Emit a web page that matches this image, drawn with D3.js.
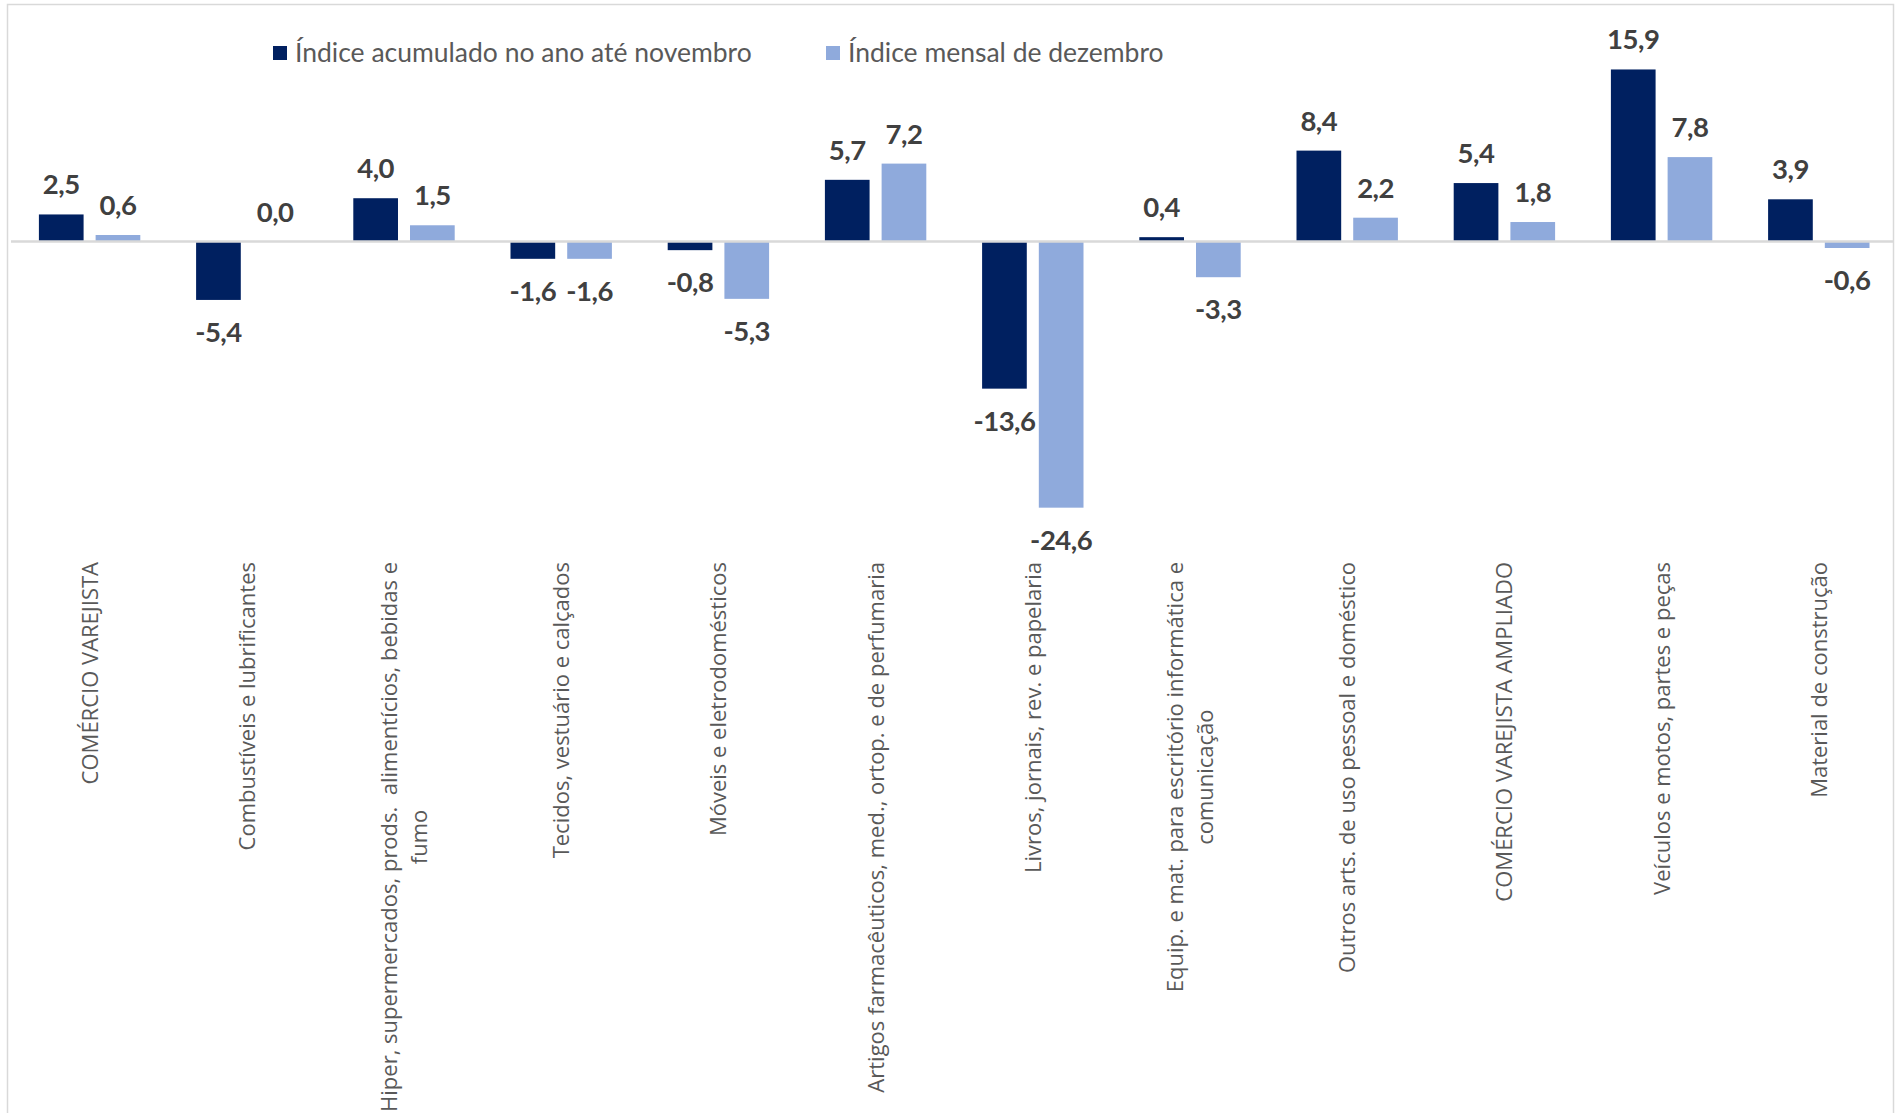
<!DOCTYPE html>
<html>
<head>
<meta charset="utf-8">
<script src="https://cdn.jsdelivr.net/npm/d3@7"></script>
<style>
  body { margin: 0; background: #fff; }
  svg { display: block; }
</style>
</head>
<body>
<div id="chart"></div>
<script>
// categories (line breaks as in the original axis)
const categories = [
  "COMÉRCIO VAREJISTA",
  "Combustíveis e lubrificantes",
  "Hiper, supermercados, prods.  alimentícios, bebidas e\nfumo",
  "Tecidos, vestuário e calçados",
  "Móveis e eletrodomésticos",
  "Artigos farmacêuticos, med., ortop. e de perfumaria",
  "Livros, jornais, rev. e papelaria",
  "Equip. e mat. para escritório informática e\ncomunicação",
  "Outros arts. de uso pessoal e doméstico",
  "COMÉRCIO VAREJISTA AMPLIADO",
  "Veículos e motos, partes e peças",
  "Material de construção"
];
const seriesNames = ["Índice acumulado no ano até novembro", "Índice mensal de dezembro"];
const acumulado = [2.5, -5.4, 4.0, -1.6, -0.8, 5.7, -13.6, 0.4, 8.4, 5.4, 15.9, 3.9];
const dezembro  = [0.6, 0.0, 1.5, -1.6, -5.3, 7.2, -24.6, -3.3, 2.2, 1.8, 7.8, -0.6];

const width = 1896;
const height = 1113;
const colors = ["#002060", "#8FAADC"];
const labelTop = 562;

const locale = d3.formatLocale({decimal: ",", thousands: ".", grouping: [3], currency: ["R$", ""], minus: "-"});
const fmt = locale.format(".1f");

const svg = d3.select("#chart").append("svg")
  .attr("width", width)
  .attr("height", height);

// chart border
svg.append("rect")
  .attr("x", 7.5).attr("y", 4.5)
  .attr("width", 1886).attr("height", 1130)
  .attr("fill", "none")
  .attr("stroke", "#d9d9d9")
  .attr("stroke-width", 1.5);

const x0 = d3.scaleBand()
  .domain(d3.range(categories.length))
  .range([11, 1897.4])
  .paddingInner(0).paddingOuter(0);

const x1 = d3.scaleBand()
  .domain([0, 1])
  .range([27.9, x0.bandwidth() - 27.9])
  .paddingInner(0.212);

const y = d3.scaleLinear()
  .domain([-30, 20])
  .range([566.1, 25.1]);

const rows = categories.map(function(c, i) {
  return {i: i, cat: c, vals: [acumulado[i], dezembro[i]]};
});

const groups = svg.selectAll(".grupo")
  .data(rows).enter().append("g")
  .attr("class", "grupo")
  .attr("transform", function(d) { return "translate(" + x0(d.i) + ",0)"; });

const bars = groups.selectAll("rect")
  .data(function(d) { return d.vals.map(function(v, k) { return {k: k, v: v}; }); })
  .enter();

bars.append("rect")
  .attr("x", function(d) { return x1(d.k); })
  .attr("width", x1.bandwidth())
  .attr("y", function(d) { return y(Math.max(0, d.v)); })
  .attr("height", function(d) { return Math.abs(y(d.v) - y(0)); })
  .attr("fill", function(d) { return colors[d.k]; });

// zero line
svg.append("line")
  .attr("x1", 11).attr("x2", 1893)
  .attr("y1", y(0)).attr("y2", y(0))
  .attr("stroke", "#d9d9d9")
  .attr("stroke-width", 2.5);

// data labels
bars.append("text")
  .attr("x", function(d) { return x1(d.k) + x1.bandwidth() / 2; })
  .attr("y", function(d) { return d.v >= 0 ? y(d.v) - 20 : y(d.v) + 42; })
  .attr("text-anchor", "middle")
  .style("font-family", "Lato, 'Open Sans', sans-serif")
  .style("font-weight", "bold")
  .style("font-size", "27.5px")
  .style("letter-spacing", "-0.5px")
  .style("fill", "#404040")
  .text(function(d) { return fmt(d.v); });

// category labels, rotated, top aligned under the plot
const tick = svg.selectAll(".cat")
  .data(rows).enter().append("g")
  .attr("class", "cat")
  .attr("transform", function(d) { return "translate(" + (x0(d.i) + x0.bandwidth() / 2) + "," + labelTop + ") rotate(-90)"; });

tick.each(function(d) {
  const g = d3.select(this);
  const lines = d.cat.split("\n");
  const n = lines.length;
  const t = g.selectAll("text").data(lines).enter().append("text")
    .attr("y", function(l, j) { return (j - (n - 1) / 2) * 30; })
    .attr("dy", "0.36em")
    .attr("text-anchor", "middle")
    .style("white-space", "pre")
    .style("font-family", "'Open Sans', sans-serif")
    .style("font-size", "22px")
    .style("fill", "#595959")
    .text(function(l) { return l; });
  let longest = 0;
  t.each(function() { longest = Math.max(longest, this.getComputedTextLength()); });
  t.attr("x", -longest / 2);
});

// legend
const legendX = [273, 826];
const legend = svg.selectAll(".legenda")
  .data(seriesNames).enter().append("g")
  .attr("class", "legenda")
  .attr("transform", function(d, k) { return "translate(" + legendX[k] + ",46)"; });

legend.append("rect")
  .attr("width", 14).attr("height", 14)
  .attr("fill", function(d, k) { return colors[k]; });

legend.append("text")
  .attr("x", 22)
  .attr("y", 7)
  .attr("dy", "0.35em")
  .style("font-family", "Lato, sans-serif")
  .style("font-size", "26.5px")
  .style("fill", "#595959")
  .text(function(d) { return d; });
</script>
</body>
</html>
